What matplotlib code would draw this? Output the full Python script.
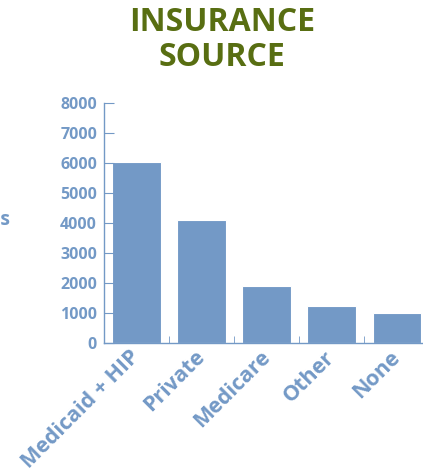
import matplotlib.pyplot as plt
import numpy as np

plt.rcParams['font.family'] = ['Open Sans', 'DejaVu Sans']

sources = ['Medicaid + HIP', 'Private', 'Medicare', 'Other', 'None']
patients = [6030, 4100, 1900, 1250, 1000]
yticks = [0, 1000, 2000, 3000, 4000, 5000, 6000, 7000, 8000]

blue = '#7399c6'
green = '#586e12'

fig = plt.figure(figsize=(4.23, 4.76), dpi=100)
ax = fig.add_axes([104/423, 133/476, 1 - 104/423, 240/476])

x = np.arange(len(sources))
ax.bar(x, patients, width=0.75, color=blue, edgecolor='white', linewidth=0.8)

ax.set_xlim(-0.5, 4.4)
ax.set_ylim(0, 8000)
ax.set_yticks(yticks)
ax.set_yticklabels([str(v) for v in yticks], color=blue, fontsize=11.5, fontweight='bold')
ax.set_xticks(x)
ax.set_xticklabels(sources, rotation=45, ha='right', va='center', rotation_mode='anchor',
                   color=blue, fontsize=15.5, fontweight='bold')
ax.set_xticks(x[:-1] + 0.5, minor=True)

ax.tick_params(axis='y', direction='in', length=7, color=blue, pad=5)
ax.tick_params(axis='x', which='major', length=0, pad=8)
ax.tick_params(axis='x', which='minor', direction='in', length=5, color=blue)

for side in ['top', 'right']:
    ax.spines[side].set_visible(False)
for side in ['left', 'bottom']:
    ax.spines[side].set_color(blue)
    ax.spines[side].set_linewidth(1)

fig.text(222/423, 1 - 40/476, 'INSURANCE\nSOURCE', ha='center', va='center',
         color=green, fontsize=23, fontweight='bold', linespacing=1.05)
fig.text(10/423, 1 - 220/476, 'Patients', ha='right', va='center',
         color=blue, fontsize=14, fontweight='bold')

fig.savefig('out.png', dpi=100)
